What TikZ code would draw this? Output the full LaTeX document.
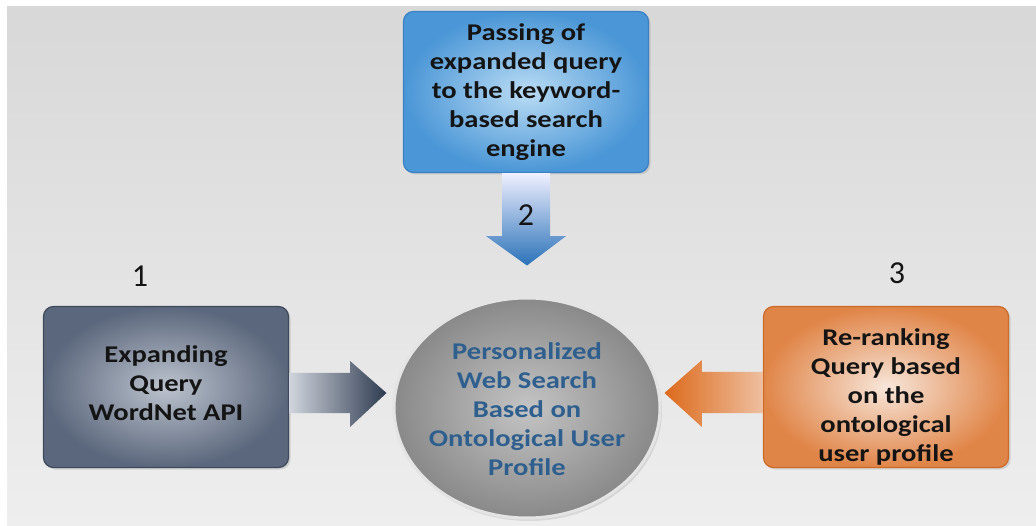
\documentclass[tikz,border=0pt]{standalone}
\usepackage{fontspec}
\setmainfont{Carlito}[FakeStretch=1.19]
\newfontfamily\digitfont{Carlito}
\usetikzlibrary{shapes.geometric,calc,shadows}

\definecolor{bgtop}{HTML}{D8D8D8}
\definecolor{bgbot}{HTML}{EEEEEE}
\definecolor{bluein}{HTML}{BADCF4}
\definecolor{blueout}{HTML}{4A96D6}
\definecolor{blueedge}{HTML}{3A82C4}
\definecolor{slatein}{HTML}{BCC3CE}
\definecolor{slateout}{HTML}{5B677C}
\definecolor{slateedge}{HTML}{3E495C}
\definecolor{orangein}{HTML}{F7E6DA}
\definecolor{orangeout}{HTML}{E08548}
\definecolor{orangeedge}{HTML}{CC6A28}
\definecolor{hubin}{HTML}{C4C4C4}
\definecolor{hubout}{HTML}{898989}
\definecolor{hubrim}{HTML}{E4E4E4}
\definecolor{hubtext}{HTML}{2E5F8E}
\definecolor{textdark}{HTML}{141414}
\definecolor{arrowblue}{HTML}{2A72B8}
\definecolor{arrowslate}{HTML}{2E3B50}
\definecolor{arroworange}{HTML}{DC6A1C}

\begin{document}
\begin{tikzpicture}[x=1pt,y=-1pt,
  panel/.style={rectangle, rounded corners=10pt, inner sep=0pt,
    minimum width=245pt, minimum height=161pt, line width=1.2pt,
    drop shadow={opacity=0.25, shadow xshift=2pt, shadow yshift=-2pt}},
  bluepanel/.style={panel, draw=blueedge, inner color=bluein, outer color=blueout},
  slatepanel/.style={panel, draw=slateedge, inner color=slatein, outer color=slateout},
  orangepanel/.style={panel, draw=orangeedge, inner color=orangein, outer color=orangeout},
  boxtext/.style={align=center, inner sep=0pt, text=textdark,
    font=\fontsize{24}{29}\selectfont\bfseries},
  hubtextstyle/.style={boxtext, text=hubtext},
  steplabel/.style={inner sep=0pt, text=textdark, font=\digitfont\fontsize{32}{36}\selectfont}
]
\useasboundingbox (0,0) rectangle (1036,526);

% backdrop
\fill[white] (0,0) rectangle (1036,526);
\shade[top color=bgtop, bottom color=bgbot] (7,7) rectangle (1036,526);

% central ellipse
\node[ellipse, minimum width=266pt, minimum height=220pt, inner sep=0pt,
      draw=hubrim, line width=3pt, inner color=hubin, outer color=hubout,
      drop shadow={opacity=0.2, shadow xshift=2pt, shadow yshift=-3pt}]
      (hub) at (527,408) {};
\node[hubtextstyle] (hubtext) at (527,409)
  {Personalized\\Web Search\\Based on\\Ontological User\\Profile};

% three process boxes
\node[bluepanel] (query) at (526,92) {};
\node[boxtext] (querytext) at (query.center)
  {Passing of\\expanded query\\to the keyword-\\based search\\engine};

\node[slatepanel] (expand) at (166,387) {};
\node[boxtext] (expandtext) at ($(expand.center)+(0,-4)$)
  {Expanding\\Query\\WordNet API};

\node[orangepanel] (rerank) at (886,387) {};
\node[boxtext] (reranktext) at ($(rerank.center)+(0,10)$)
  {Re-ranking\\Query based\\on the\\ontological\\user profile};

% block arrows into the hub
\path[shade, top color=blue!6!white, middle color=blueout!85!arrowblue, bottom color=arrowblue]
  ($(query.south)+(-24,0)$) -- ($(query.south)+(24,0)$)
  -- ($(query.south)+(24,63)$) -- ($(query.south)+(40,63)$)
  -- ($(hub.north)+(0,-31)$)
  -- ($(query.south)+(-40,63)$) -- ($(query.south)+(-24,63)$) -- cycle;

\path[shade, left color=slatein!70!white, middle color=slateout, right color=arrowslate]
  ($(expand.east)+(0,-14)$) -- ($(expand.east)+(61,-14)$)
  -- ($(expand.east)+(61,-26)$) -- ($(hub.west)+(-6,-15)$)
  -- ($(expand.east)+(61,40)$) -- ($(expand.east)+(61,26)$)
  -- ($(expand.east)+(0,26)$) -- cycle;

\path[shade, right color=orangein!60!orangeout, middle color=orangeout, left color=arroworange]
  ($(rerank.west)+(0,-15)$) -- ($(rerank.west)+(-61,-15)$)
  -- ($(rerank.west)+(-61,-27)$) -- ($(hub.east)+(3,-15)$)
  -- ($(rerank.west)+(-61,40)$) -- ($(rerank.west)+(-61,26)$)
  -- ($(rerank.west)+(0,26)$) -- cycle;

% step numbers
\node[steplabel] (stepone) at (140,276) {1};
\node[steplabel] (steptwo) at ($(query.south)+(0,42)$) {2};
\node[steplabel] (stepthree) at (897,273) {3};
\end{tikzpicture}
\end{document}
